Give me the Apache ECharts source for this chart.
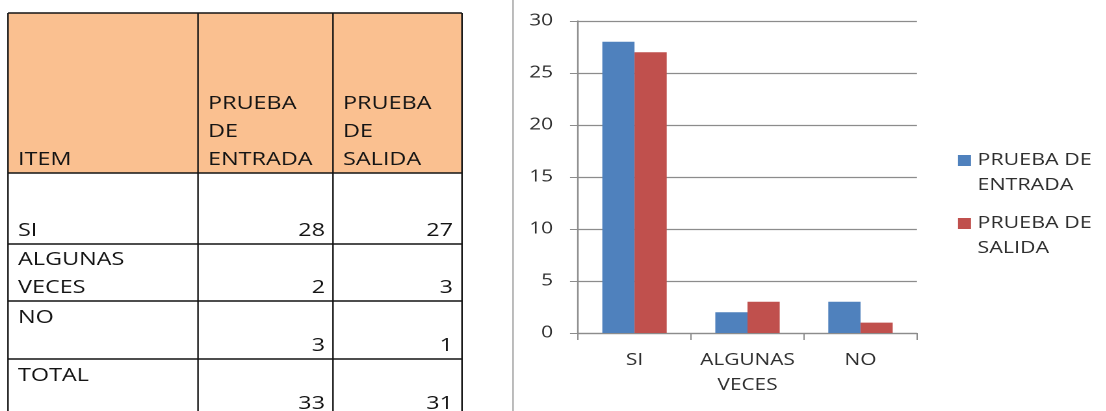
<!DOCTYPE html>
<html>
<head>
<meta charset="utf-8">
<script src="https://cdn.jsdelivr.net/npm/echarts@6/dist/echarts.min.js"></script>
<style>
  html, body { margin: 0; padding: 0; background: #fff; overflow: hidden; }
  /* the reference is stretched sideways, so the page is drawn narrow and widened */
  #main { width: 851px; height: 411px; transform: scaleX(1.3); transform-origin: 0 0; }
</style>
</head>
<body>
<div id="main"></div>
<script>
(function () {
  'use strict';

  const categories = ['SI', 'ALGUNAS\nVECES', 'NO'];
  const seriesNames = ['PRUEBA DE ENTRADA', 'PRUEBA DE SALIDA'];
  const entrada = [28, 2, 3];
  const salida = [27, 3, 1];
  const tableHeaders = ['ITEM', 'PRUEBA\nDE\nENTRADA', 'PRUEBA\nDE\nSALIDA'];
  const tableItems = ['SI', 'ALGUNAS\nVECES', 'NO\n ', 'TOTAL\n '];
  const totals = [33, 31];
  const yMin = 0;
  const yMax = 30;
  const yStep = 5;

  const S = 1.3;
  const u = (x) => x / S; // picture px -> page px before the stretch
  const font = 'Open Sans';
  const ink = '#141414';
  const label = '#2e2e2e';
  const gray = '#8c8c8c';

  const colX = [8, 198, 333, 462].map(u);
  const rowY = [13, 173, 244, 301, 359, 417];

  function cellText(text, x, bottom, align) {
    return {
      type: 'text',
      x,
      y: bottom + 1,
      silent: true,
      style: {
        text: String(text),
        fill: ink,
        fontFamily: font,
        fontSize: 18,
        lineHeight: 28,
        align,
        textAlign: align,
        verticalAlign: 'bottom',
        textVerticalAlign: 'bottom'
      }
    };
  }

  function tableGraphics() {
    const out = [];
    out.push({
      type: 'rect',
      silent: true,
      shape: { x: colX[0], y: rowY[0], width: colX[3] - colX[0], height: rowY[1] - rowY[0] },
      style: { fill: '#FAC090' }
    });
    rowY.forEach((y) => out.push({
      type: 'line', silent: true,
      shape: { x1: colX[0], y1: y, x2: colX[3], y2: y },
      style: { stroke: ink, lineWidth: 1.5 }
    }));
    colX.forEach((x) => out.push({
      type: 'line', silent: true,
      shape: { x1: x, y1: rowY[0], x2: x, y2: rowY[rowY.length - 1] },
      style: { stroke: ink, lineWidth: 1.2 }
    }));
    tableHeaders.forEach((h, c) => out.push(cellText(h, colX[c] + u(10), rowY[1], 'left')));
    tableItems.forEach((item, r) => {
      const bottom = rowY[r + 2];
      const a = r < entrada.length ? entrada[r] : totals[0];
      const b = r < salida.length ? salida[r] : totals[1];
      out.push(cellText(item, colX[0] + u(10), bottom, 'left'));
      out.push(cellText(a, colX[2] - u(8), bottom, 'right'));
      out.push(cellText(b, colX[3] - u(9), bottom, 'right'));
    });
    // thin separator between the table and the chart
    out.push({
      type: 'line', silent: true,
      shape: { x1: u(513), y1: 0, x2: u(513), y2: 411 },
      style: { stroke: '#a0a0a0', lineWidth: 1 }
    });
    return out;
  }

  const chart = echarts.init(document.getElementById('main'), null, { renderer: 'canvas', devicePixelRatio: 2 });
  const pageW = 851;

  chart.setOption({
    animation: false,
    backgroundColor: '#fff',
    graphic: { elements: tableGraphics() },
    grid: { left: u(578), right: pageW - u(917), top: 21, bottom: 78, containLabel: false },
    // one legend per series; a blank first line keeps the square beside the top text line
    legend: seriesNames.map((name, i) => ({
      data: [name],
      orient: 'vertical',
      left: u(958),
      top: [123, 186][i],
      padding: 0,
      icon: 'rect',
      itemWidth: u(13),
      itemHeight: 11,
      selectedMode: false,
      formatter: (n) => ' \n' + n.replace(' DE ', ' DE\n'),
      textStyle: { fontFamily: font, fontSize: 16.5, color: label, lineHeight: 25 }
    })),
    xAxis: {
      type: 'category',
      data: categories,
      axisLine: { lineStyle: { color: gray, width: 1.2 } },
      axisTick: { show: true, length: 7, lineStyle: { color: gray } },
      axisLabel: { interval: 0, fontFamily: font, fontSize: 16, color: label, lineHeight: 25, margin: 15 }
    },
    yAxis: {
      type: 'value',
      min: yMin,
      max: yMax,
      interval: yStep,
      axisLine: { show: true, lineStyle: { color: gray, width: 1.2 } },
      axisTick: { show: true, length: u(8), lineStyle: { color: gray } },
      splitLine: { lineStyle: { color: gray, width: 1.2 } },
      axisLabel: { fontFamily: font, fontSize: 16, color: label, margin: u(25) }
    },
    series: [
      {
        name: seriesNames[0],
        type: 'bar',
        data: entrada,
        barGap: '0%',
        barCategoryGap: '43%',
        itemStyle: { color: '#4F81BD' },
        emphasis: { disabled: true }
      },
      {
        name: seriesNames[1],
        type: 'bar',
        data: salida,
        barGap: '0%',
        barCategoryGap: '43%',
        itemStyle: { color: '#C0504D' },
        emphasis: { disabled: true }
      }
    ]
  });
})();
</script>
</body>
</html>
